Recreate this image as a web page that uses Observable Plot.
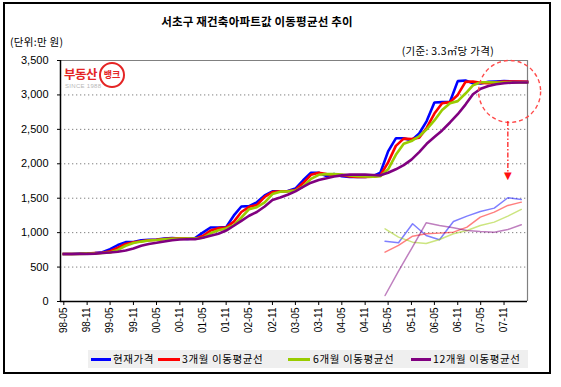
<!DOCTYPE html>
<html>
<head>
<meta charset="utf-8">
<script src="https://cdn.jsdelivr.net/npm/d3@7"></script>
<script src="https://cdn.jsdelivr.net/npm/@observablehq/plot@0.6"></script>
<style>
  html, body { margin: 0; padding: 0; background: #fff; }
  #wrap { position: relative; width: 561px; height: 387px; background: #fff; overflow: hidden;
          font-family: "Noto Sans CJK KR", "Noto Sans", sans-serif; }
  #border { position: absolute; left: 3px; top: 2px; width: 548px; height: 372px; box-sizing: border-box;
            border: 2px solid #000; }
  .abs { position: absolute; white-space: nowrap; line-height: 1; }
  #title { left: 0; width: 514px; top: 16px; text-align: center; font-size: 11.5px; font-weight: bold; color: #000; letter-spacing: 0.2px; }
  #unit { left: 10px; top: 37px; font-size: 10.5px; color: #000; letter-spacing: 0.3px; }
  #basis { left: 0; width: 494px; top: 46px; text-align: right; font-size: 10.5px; color: #000; letter-spacing: 0.3px; }
  #chart { position: absolute; left: 0; top: 40px; }
  #chart svg { overflow: visible; }
  #chart g[aria-label^="y-axis"] text { font-size: 11px; }
  #legend { position: absolute; left: 88px; top: 350px; width: 440px; height: 18px; background: #efefef; }
  .sw { position: absolute; top: 8px; height: 3px; }
  .lt { position: absolute; top: 4px; font-size: 10.5px; line-height: 1; color: #000; white-space: nowrap; letter-spacing: 0.6px; }
  #logo1 { left: 64px; top: 68px; font-size: 12.5px; font-weight: bold; color: #e42424; letter-spacing: -0.5px; }
  #logo2 { position: absolute; left: 99px; top: 62px; width: 22px; height: 22px; border: 2px solid #e42424;
           border-radius: 50%; font-size: 9px; font-weight: bold; color: #e42424; text-align: center; line-height: 22px; }
  #logo3 { left: 65px; top: 83px; font-size: 6px; color: #b8b8b8; font-family: "Liberation Sans", Arial, sans-serif; letter-spacing: 0.3px; }
</style>
</head>
<body>
<div id="wrap">
  <div id="border"></div>
  <div id="title" class="abs">서초구 재건축아파트값 이동평균선 추이</div>
  <div id="unit" class="abs">(단위:만 원)</div>
  <div id="basis" class="abs">(기준: 3.3㎡당 가격)</div>
  <div id="chart"></div>
  <div id="logo1" class="abs">부동산</div>
  <div id="logo2">뱅크</div>
  <div id="logo3" class="abs">SINCE 1988</div>
  <div id="legend"></div>
</div>
<script>
// ---- data (만 원 per 3.3㎡), sampled every two months from 1998-05 to 2008-05 ----
const current = [690,690,695,700,705,715,760,820,862,865,890,896,900,915,920,915,910,920,1000,1075,1075,1080,1250,1380,1385,1440,1540,1600,1600,1605,1640,1760,1870,1870,1820,1850,1820,1810,1810,1810,1820,1870,2180,2370,2370,2340,2440,2620,2890,2895,2900,3200,3210,3170,3165,3190,3195,3200,3195,3190,3190];
const ma3 = [690,690,693,697,703,708,730,780,835,860,875,890,897,908,915,918,913,912,950,1030,1065,1075,1160,1300,1375,1400,1520,1590,1600,1602,1620,1720,1840,1870,1850,1840,1835,1815,1810,1810,1812,1830,2020,2260,2365,2360,2380,2520,2730,2880,2895,3000,3190,3195,3175,3170,3185,3195,3195,3195,3192];
const ma6 = [690,690,690,695,700,705,712,750,810,850,870,885,893,905,912,915,916,913,925,990,1035,1060,1110,1220,1340,1370,1440,1560,1595,1600,1610,1670,1780,1840,1850,1850,1845,1830,1820,1815,1812,1820,1920,2130,2290,2330,2400,2500,2630,2780,2880,2910,3020,3140,3185,3185,3180,3180,3180,3180,3180];
const ma12 = [690,690,690,692,695,705,712,722,740,770,810,835,852,872,890,900,903,905,925,955,985,1030,1100,1170,1245,1300,1380,1475,1510,1550,1600,1665,1725,1765,1790,1815,1832,1842,1845,1843,1838,1832,1870,1920,1980,2060,2170,2290,2390,2485,2600,2720,2860,3010,3090,3130,3155,3170,3178,3180,3180];

// magnified view of the circled last months (drawn faintly at lower right)
const insetDates = ["2005-04-07","2005-07-22","2005-11-10","2006-02-25","2006-06-10","2006-09-28","2007-01-13","2007-04-28","2007-08-16","2007-12-01","2008-03-16"];
const insetCurrent = [876,853,1129,959,896,1162,1240,1308,1356,1507,1482];
const insetMa3 = [717,814,949,983,993,1007,1080,1225,1298,1395,1443];
const insetMa6 = [1056,935,862,843,901,983,1032,1104,1153,1240,1337];
const insetMa12 = [87,441,795,1143,1104,1070,1032,1017,1007,1046,1114];

const tickLabels = ["98-05","98-11","99-05","99-11","00-05","00-11","01-05","01-11","02-05","02-11","03-05","03-11","04-05","04-11","05-05","05-11","06-05","06-11","07-05","07-11"];
const yTicks = [0,500,1000,1500,2000,2500,3000,3500];
const gridValues = [500,1000,1500,2000,2500,3000];

const seriesNames = ["현재가격","3개월 이동평균선","6개월 이동평균선","12개월 이동평균선"];
const seriesColors = ["#0000ff","#ff0000","#99cc00","#800080"];

// annotation: dashed circle around the final flat section and a dashed arrow pointing to the magnified view
const circleNote = [{date: "2007-12-15", value: 3050}];
const arrowNote = [{date: "2007-12-01", from: 2615, to: 1880, tip: 1830}];

// ---- build tables ----
const months = Array.from({length: current.length}, (_, i) => new Date(Date.UTC(1998, 4 + 2 * i, 1)));
const allSeries = [current, ma3, ma6, ma12];
const rows = allSeries.flatMap((vals, s) => vals.map((v, i) => ({date: months[i], value: v, s})));
const insetAll = [insetCurrent, insetMa3, insetMa6, insetMa12];
const insetRows = insetAll.flatMap((vals, s) => vals.map((v, i) => ({date: new Date(insetDates[i]), value: v, s})));
const parseTick = d3.utcParse("%y-%m");
const tickDates = tickLabels.map(parseTick);
const xDomain = [new Date(Date.UTC(1998, 3, 5)), new Date(Date.UTC(2008, 4, 4))];

const lineMarks = [0,1,2,3].map(s => Plot.line(rows.filter(d => d.s === s), {
  x: "date", y: "value", stroke: seriesColors[s], strokeWidth: 2.6, strokeLinejoin: "miter", strokeLinecap: "square"
}));
const insetMarks = [0,1,2,3].map(s => Plot.line(insetRows.filter(d => d.s === s), {
  x: "date", y: "value", stroke: seriesColors[s], strokeOpacity: 0.5, strokeWidth: 1.5
}));

const chart = Plot.plot({
  width: 561,
  height: 310,
  marginTop: 20,
  marginBottom: 49,
  marginLeft: 60,
  marginRight: 34,
  style: {fontFamily: "'Liberation Sans', Arial, sans-serif", fontSize: "10px", color: "#000", background: "transparent"},
  x: {type: "utc", domain: xDomain, ticks: tickDates, tickFormat: d3.utcFormat("%y-%m"), tickRotate: -90, tickSize: 4, tickPadding: 2, label: null},
  y: {domain: [0, 3500], ticks: yTicks, tickFormat: d3.format(","), tickSize: 3, tickPadding: 9, label: null},
  marks: [
    Plot.ruleY(gridValues, {stroke: "#808080", strokeDasharray: "1.3,2.7", strokeWidth: 1}),
    Plot.ruleY([3500], {stroke: "#808080", strokeWidth: 1.2}),
    Plot.ruleX([xDomain[1]], {stroke: "#808080", strokeWidth: 1.2}),
    ...lineMarks,
    ...insetMarks,
    Plot.dot(circleNote, {x: d => new Date(d.date), y: "value", r: 31, stroke: "#ff4a4a", strokeWidth: 1.4, strokeDasharray: "4,3", fill: "none"}),
    Plot.ruleX(arrowNote, {x: d => new Date(d.date), y1: "from", y2: "to", stroke: "#ff2020", strokeWidth: 1.3, strokeDasharray: "5,2,1.5,2"}),
    Plot.text(arrowNote, {x: d => new Date(d.date), y: "tip", text: () => "▼", fill: "#ff1010", fontSize: 10, fontFamily: "DejaVu Sans"}),
    Plot.ruleX([xDomain[0]], {stroke: "#000", strokeWidth: 1.5}),
    Plot.ruleY([0], {stroke: "#000", strokeWidth: 1.5})
  ]
});
document.getElementById("chart").appendChild(chart);

// ---- legend ----
const legend = document.getElementById("legend");
const swatchPos = [[3, 20], [70, 22], [200, 22], [323, 20]];
const textPos = [25, 94, 225, 345];
seriesNames.forEach((name, i) => {
  const sw = document.createElement("div");
  sw.className = "sw";
  sw.style.left = swatchPos[i][0] + "px";
  sw.style.width = swatchPos[i][1] + "px";
  sw.style.background = seriesColors[i];
  legend.appendChild(sw);
  const t = document.createElement("div");
  t.className = "lt";
  t.style.left = textPos[i] + "px";
  t.textContent = name;
  legend.appendChild(t);
});
</script>
</body>
</html>
